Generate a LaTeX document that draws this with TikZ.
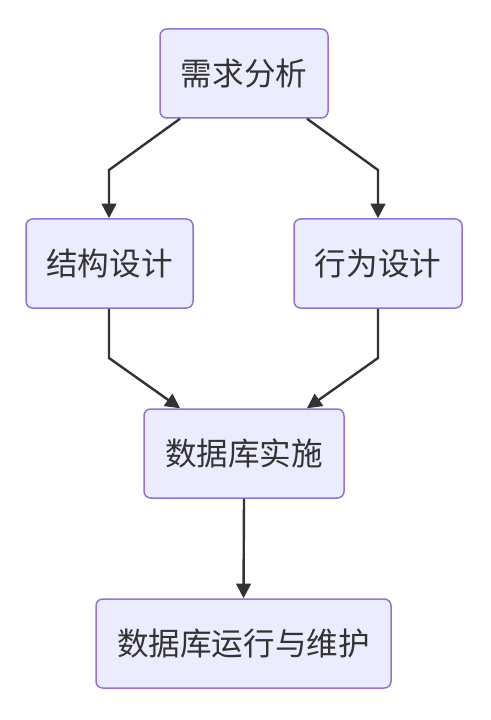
\documentclass[tikz,border=0pt]{standalone}
\usepackage{fontspec}
\newfontfamily\cjk{Noto Sans CJK SC}
\usetikzlibrary{arrows.meta,calc}
\definecolor{nodefill}{HTML}{ECECFF}
\definecolor{nodeline}{HTML}{9370DB}
\definecolor{edgecol}{HTML}{333333}
\begin{document}
\begin{tikzpicture}[x=0.75pt,y=-0.75pt,
  box/.style={draw=nodeline,fill=nodefill,line width=1.5pt*0.75,rounded corners=5pt,
    minimum height=89*0.75pt,inner sep=0pt,text=edgecol,font=\cjk\fontsize{23.7pt}{28pt}\selectfont},
  edge/.style={draw=edgecol,line width=2.4pt*0.75,-{Triangle[length=11pt,width=11pt]}}]
\useasboundingbox (0,0) rectangle (490,720);
\node[box,minimum width=168*0.75pt] (req) at (244,73.5) {需求分析};
\node[box,minimum width=167*0.75pt] (struct) at (109.5,263.5) {结构设计};
\node[box,minimum width=168*0.75pt] (behav) at (378,263.5) {行为设计};
\node[box,minimum width=200*0.75pt] (impl) at (244,453.5) {数据库实施};
\node[box,minimum width=295*0.75pt] (ops) at (243.5,643.5) {数据库运行与维护};
\coordinate (b1) at (109,170);
\coordinate (b2) at (378,170);
\coordinate (b3) at (109,358);
\coordinate (b4) at (378,358);
\coordinate (s1) at ($(req.south)+(-64,0)$);
\coordinate (s2) at ($(req.south)+(63,0)$);
\coordinate (e3) at ($(impl.north)+(-64,0)$);
\coordinate (e4) at ($(impl.north)+(63,0)$);
\draw[edge] (s1) -- (b1) -- (b1 |- struct.north);
\draw[edge] (s2) -- (b2) -- (b2 |- behav.north);
\draw[edge] (b3 |- struct.south) -- (b3) -- (e3);
\draw[edge] (b4 |- behav.south) -- (b4) -- (e4);
\draw[edge] (impl.south) -- (ops.north);
\end{tikzpicture}
\end{document}
